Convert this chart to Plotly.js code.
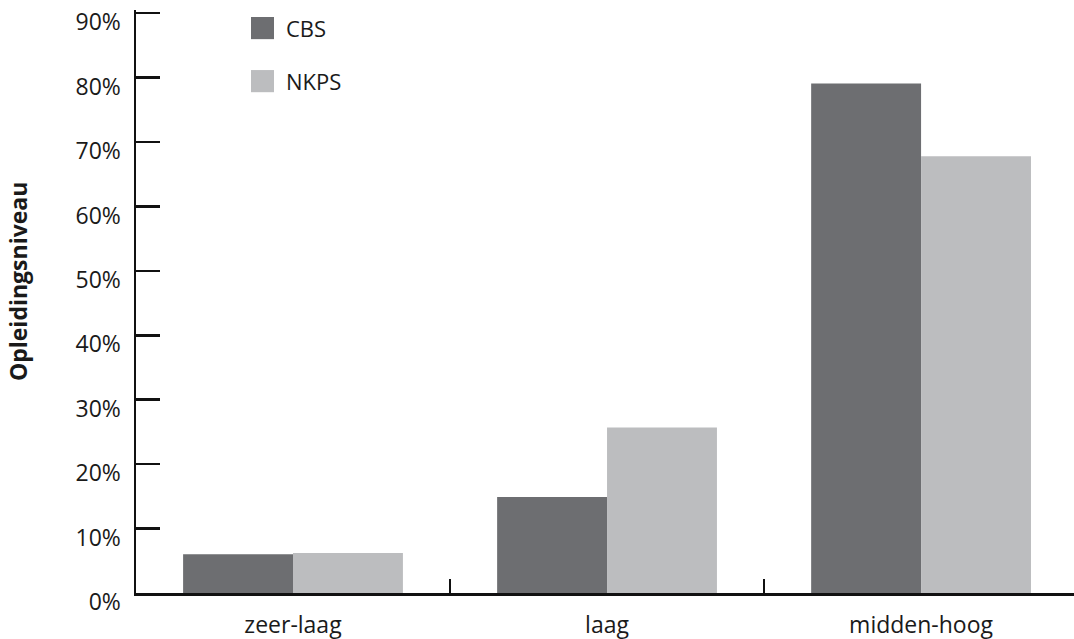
<!DOCTYPE html>
<html>
<head>
<meta charset="utf-8">
<script src="https://cdn.plot.ly/plotly-3.0.1.min.js"></script>
<style>html,body{margin:0;padding:0;background:#fff;}#chart{width:1074px;height:639px;}</style>
</head>
<body>
<div id="chart"></div>
<script>
const categories = ["zeer-laag", "laag", "midden-hoog"];
const cbsValues = [6.0, 14.9, 79.1];
const nkpsValues = [6.2, 25.7, 67.8];
const seriesNames = ["CBS", "NKPS"];
const seriesColors = ["#6d6e71", "#bcbdbf"];
const yTickVals = [0, 10, 20, 30, 40, 50, 60, 70, 80, 90];
const yTickText = yTickVals.map(v => v + "%");
const yAxisTitle = "Opleidingsniveau";

const font = "Open Sans, Noto Sans, sans-serif";
const fs = 23;

const traces = [
  {type: "bar", name: seriesNames[0], x: categories, y: cbsValues, marker: {color: seriesColors[0]}, showlegend: false, hoverinfo: "skip"},
  {type: "bar", name: seriesNames[1], x: categories, y: nkpsValues, marker: {color: seriesColors[1]}, showlegend: false, hoverinfo: "skip"}
];

// legend built from shapes + annotations (larger swatches than Plotly's legend)
const legendY = [0.969, 0.878];
const shapes = [];
const annotations = [];
seriesNames.forEach((n, i) => {
  shapes.push({type: "rect", xref: "paper", yref: "paper", x0: 0.1226, x1: 0.1471,
    y0: legendY[i] - 0.019, y1: legendY[i] + 0.019, fillcolor: seriesColors[i], line: {width: 0}});
  annotations.push({xref: "paper", yref: "paper", x: 0.158, y: legendY[i], xanchor: "left", yanchor: "middle",
    text: n, showarrow: false, font: {family: font, size: 22, color: "#1a1a1a"}});
});
annotations.push({xref: "paper", yref: "paper", x: -0.1258, y: 0.535, xanchor: "center", yanchor: "middle",
  text: "<b>" + yAxisTitle + "</b>", textangle: -90, showarrow: false, font: {family: font, size: 23, color: "#1a1a1a"}});

const layout = {
  width: 1074, height: 639,
  margin: {l: 136, r: 0, t: 10, b: 46, pad: 0},
  paper_bgcolor: "#fff", plot_bgcolor: "#fff",
  barmode: "group", bargap: 0.3, bargroupgap: 0,
  font: {family: font, size: fs, color: "#1a1a1a"},
  xaxis: {
    type: "category", range: [-0.5, 2.487], showgrid: false, zeroline: false,
    showline: true, linecolor: "#111", linewidth: 2.5,
    ticks: "inside", tickson: "boundaries", ticklen: 14, tickwidth: 2, tickcolor: "#111",
    ticklabelstandoff: 10, ticklabeloverflow: "allow", tickfont: {family: font, size: fs, color: "#1a1a1a"}
  },
  yaxis: {
    range: [0, 90.5], showgrid: false, zeroline: false,
    showline: true, linecolor: "#111", linewidth: 2.5,
    tickvals: yTickVals, ticktext: yTickText,
    ticks: "inside", ticklen: 24, tickwidth: 2.5, tickcolor: "#111",
    ticklabelstandoff: 8, ticklabelshift: 9, ticklabeloverflow: "allow",
    tickfont: {family: font, size: fs, color: "#1a1a1a"}
  },
  shapes: shapes,
  annotations: annotations
};

Plotly.newPlot("chart", traces, layout, {staticPlot: true, displayModeBar: false});
</script>
</body>
</html>
